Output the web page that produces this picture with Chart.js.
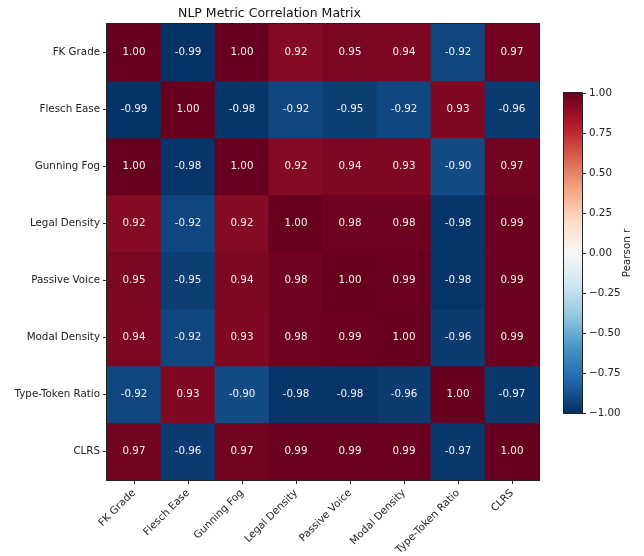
<!DOCTYPE html>
<html lang="en">
<head>
  <meta charset="UTF-8" />
  <title>NLP Metric Correlation Matrix</title>
  <script src="https://cdn.jsdelivr.net/npm/chart.js"></script>
  <style>
    body { margin: 0; background: #fff; }
    .wrap { position: relative; width: 644px; height: 556px; }
    #cbar { position: absolute; left: 550px; top: 0; }
    #heat { position: absolute; left: 0; top: 0; }
  </style>
</head>
<body>
  <div class="wrap">
    <canvas id="heat" width="644" height="556"></canvas>
    <canvas id="cbar" width="94" height="556"></canvas>
  </div>

  <script>
    // metric names (rows and columns)
    const metrics = ['FK Grade', 'Flesch Ease', 'Gunning Fog', 'Legal Density',
      'Passive Voice', 'Modal Density', 'Type-Token Ratio', 'CLRS'];

    // correlation rows
    const fkGrade      = [1.00, -0.99, 1.00, 0.92, 0.95, 0.94, -0.92, 0.97];
    const fleschEase   = [-0.99, 1.00, -0.98, -0.92, -0.95, -0.92, 0.93, -0.96];
    const gunningFog   = [1.00, -0.98, 1.00, 0.92, 0.94, 0.93, -0.90, 0.97];
    const legalDensity = [0.92, -0.92, 0.92, 1.00, 0.98, 0.98, -0.98, 0.99];
    const passiveVoice = [0.95, -0.95, 0.94, 0.98, 1.00, 0.99, -0.98, 0.99];
    const modalDensity = [0.94, -0.92, 0.93, 0.98, 0.99, 1.00, -0.96, 0.99];
    const typeToken    = [-0.92, 0.93, -0.90, -0.98, -0.98, -0.96, 1.00, -0.97];
    const clrs         = [0.97, -0.96, 0.97, 0.99, 0.99, 0.99, -0.97, 1.00];

    // colorbar ticks
    const cbarTicks = [-1, -0.75, -0.5, -0.25, 0, 0.25, 0.5, 0.75, 1];

    const rows = [fkGrade, fleschEase, gunningFog, legalDensity, passiveVoice, modalDensity, typeToken, clrs];

    // RdBu_r, from -1 to 1
    const rdbu = ['#053061', '#2166ac', '#4393c3', '#92c5de', '#d1e5f0', '#f7f7f7',
      '#fddbc7', '#f4a582', '#d6604d', '#b2182b', '#67001f'];

    function hexRgb(h) {
      return [parseInt(h.slice(1, 3), 16), parseInt(h.slice(3, 5), 16), parseInt(h.slice(5, 7), 16)];
    }

    function cmap(v) {
      const t = (Math.max(-1, Math.min(1, v)) + 1) / 2 * 10;
      const i = Math.min(9, Math.floor(t));
      const f = t - i;
      const a = hexRgb(rdbu[i]), b = hexRgb(rdbu[i + 1]);
      const c = a.map((x, k) => Math.round(x + (b[k] - x) * f));
      return `rgb(${c[0]},${c[1]},${c[2]})`;
    }

    const FONT = 'DejaVu Sans';
    Chart.defaults.font.family = FONT;
    Chart.defaults.font.size = 10.3;
    Chart.defaults.color = '#222';

    // frame around the plot area (matplotlib spines)
    const frame = {
      id: 'frame',
      afterDraw(chart) {
        const a = chart.chartArea, ctx = chart.ctx;
        ctx.save();
        ctx.strokeStyle = '#222';
        ctx.lineWidth = 1;
        ctx.strokeRect(a.left - 0.5, a.top - 0.5, a.right - a.left + 1, a.bottom - a.top + 1);
        ctx.restore();
      }
    };

    // numbers in each cell
    const cellText = {
      id: 'cellText',
      afterDatasetsDraw(chart) {
        const ctx = chart.ctx;
        ctx.save();
        ctx.fillStyle = '#f4f4f4';
        ctx.font = `10.3px "${FONT}"`;
        ctx.textAlign = 'center';
        ctx.textBaseline = 'middle';
        rows.forEach((row, i) => {
          chart.getDatasetMeta(i).data.forEach((el, j) => {
            const p = el.getCenterPoint();
            ctx.fillText(row[j].toFixed(2), p.x, p.y);
          });
        });
        ctx.restore();
      }
    };

    new Chart(document.getElementById('heat'), {
      type: 'bar',
      data: {
        labels: metrics,
        datasets: rows.map(row => ({
          data: row.map(() => 1),
          backgroundColor: row.map(cmap),
          borderWidth: 0,
          barPercentage: 1,
          categoryPercentage: 1
        }))
      },
      options: {
        responsive: false,
        animation: false,
        layout: { padding: { left: 0, right: 105, top: 0, bottom: 0 } },
        plugins: {
          legend: { display: false },
          tooltip: { enabled: false },
          title: {
            display: true,
            text: 'NLP Metric Correlation Matrix',
            color: '#111',
            font: { size: 12.5, weight: 'normal', lineHeight: 1.2 },
            padding: { top: 6, bottom: 3 }
          }
        },
        scales: {
          x: {
            stacked: true,
            offset: true,
            grid: { drawOnChartArea: false, offset: false, tickLength: 4, color: '#222' },
            border: { display: false },
            ticks: { autoSkip: false, minRotation: 45, maxRotation: 45, padding: 3, color: '#222' },
            afterFit(s) { s.height = 76; }
          },
          y: {
            stacked: true,
            min: 0,
            max: 8,
            reverse: true,
            grid: { drawOnChartArea: false, tickLength: 4, color: '#222' },
            border: { display: false },
            afterBuildTicks(s) { s.ticks = metrics.map((_, i) => ({ value: i + 0.5 })); },
            ticks: { padding: 3, color: '#222', callback: (v, i) => metrics[i] },
            afterFit(s) { s.width = 107; }
          }
        }
      },
      plugins: [cellText, frame]
    });

    // colorbar label
    const cbarTitle = {
      id: 'cbarTitle',
      afterDraw(chart) {
        const a = chart.chartArea, ctx = chart.ctx;
        ctx.save();
        ctx.translate(77, (a.top + a.bottom) / 2);
        ctx.rotate(-Math.PI / 2);
        ctx.fillStyle = '#222';
        ctx.font = `10.3px "${FONT}"`;
        ctx.textAlign = 'center';
        ctx.textBaseline = 'middle';
        ctx.fillText('Pearson r', 0, 0);
        ctx.restore();
      }
    };

    new Chart(document.getElementById('cbar'), {
      type: 'bar',
      data: {
        labels: [''],
        datasets: [{
          data: [[-1, 1]],
          borderWidth: 0,
          barPercentage: 1,
          categoryPercentage: 1,
          backgroundColor(c) {
            const a = c.chart.chartArea;
            if (!a) return '#ccc';
            const g = c.chart.ctx.createLinearGradient(0, a.bottom, 0, a.top);
            rdbu.forEach((col, k) => g.addColorStop(k / 10, col));
            return g;
          }
        }]
      },
      options: {
        responsive: false,
        animation: false,
        layout: { padding: { left: 14, right: 0, top: 93, bottom: 143 } },
        plugins: { legend: { display: false }, tooltip: { enabled: false } },
        scales: {
          x: { display: false },
          y: {
            position: 'right',
            min: -1,
            max: 1,
            grid: { drawOnChartArea: false, tickLength: 4, color: '#222' },
            border: { display: false },
            afterBuildTicks(s) { s.ticks = cbarTicks.map(v => ({ value: v })); },
            ticks: {
              padding: 3,
              color: '#222',
              callback: v => (v < 0 ? '\u2212' : '') + Math.abs(v).toFixed(2)
            },
            afterFit(s) { s.width = 62; }
          }
        }
      },
      plugins: [frame, cbarTitle]
    });
  </script>
</body>
</html>
